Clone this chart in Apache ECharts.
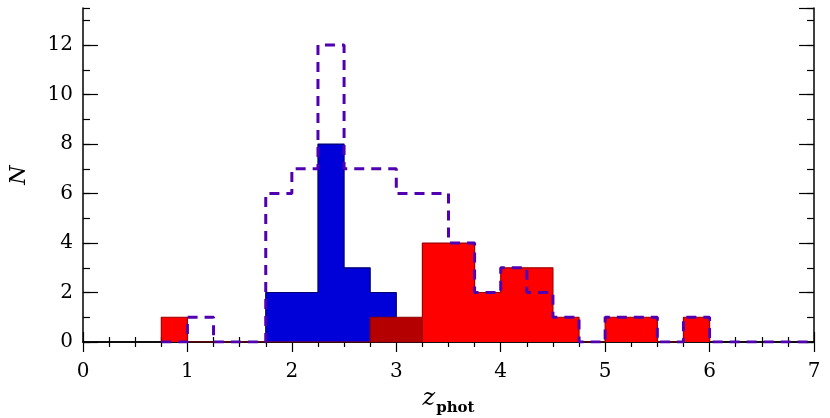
<!DOCTYPE html>
<html>
<head>
<meta charset="utf-8">
<script src="https://cdn.jsdelivr.net/npm/echarts@6/dist/echarts.min.js"></script>
<style>html,body{margin:0;padding:0;background:#fff}#c{width:830px;height:418px}</style>
</head>
<body>
<div id="c"></div>
<script>
// bin width 0.25 in z_phot
var BIN = 0.25;
var xTicks = [0, 1, 2, 3, 4, 5, 6, 7];
var yTicks = [0, 2, 4, 6, 8, 10, 12];

var blueLeft = [1.75, 2.0, 2.25, 2.5, 2.75];
var blueN    = [2, 2, 8, 3, 2];

var darkRedLeft = [2.75, 3.0];
var darkRedN    = [1, 1];

var redLeft = [0.75, 3.25, 3.5, 3.75, 4.0, 4.25, 4.5, 5.0, 5.25, 5.75];
var redN    = [1, 4, 4, 2, 3, 3, 1, 1, 1, 1];

var allLeft = [0.75, 1.0, 1.25, 1.5, 1.75, 2.0, 2.25, 2.5, 2.75, 3.0, 3.25, 3.5, 3.75,
               4.0, 4.25, 4.5, 4.75, 5.0, 5.25, 5.5, 5.75, 6.0, 6.25, 6.5, 6.75];
var allN    = [0, 1, 0, 0, 6, 7, 12, 7, 7, 6, 6, 4, 2, 3, 2, 1, 0, 1, 1, 0, 1, 0, 0, 0, 0];

function stepPoints(lefts, counts) {
  var pts = [];
  var prevRight = null;
  for (var i = 0; i < lefts.length; i++) {
    var l = lefts[i], r = l + BIN;
    if (prevRight === null) { pts.push([l, 0]); }
    else if (Math.abs(l - prevRight) > 1e-9) { pts.push([prevRight, 0]); pts.push([l, 0]); }
    pts.push([l, counts[i]]); pts.push([r, counts[i]]);
    prevRight = r;
  }
  pts.push([prevRight, 0]);
  return pts;
}
function histSeries(lefts, counts, fill, edge, width, type, z) {
  var s = {
    type: 'line', xAxisIndex: 0, yAxisIndex: 0, z: z, silent: true,
    data: stepPoints(lefts, counts), symbol: 'none', animation: false,
    lineStyle: { color: edge, width: width, type: type }
  };
  if (fill) s.areaStyle = { color: fill, opacity: 1, origin: 0 };
  return s;
}

var FONT = 'DejaVu Serif';
var frame = { show: true, lineStyle: { color: '#000', width: 1.5 } };

function xAx(pos, labels) {
  return {
    type: 'value', position: pos, min: 0, max: 7, interval: 1,
    axisLine: frame, splitLine: { show: false },
    axisTick: { show: true, inside: true, length: 10, lineStyle: { color: '#000', width: 1.2 } },
    minorTick: { show: true, splitNumber: 4, length: 5, lineStyle: { color: '#000', width: 1.2 } },
    axisLabel: { show: labels, fontFamily: FONT, fontSize: 20, color: '#000', margin: 20,
                 formatter: function (v) { return xTicks.indexOf(v) >= 0 ? String(v) : ''; } }
  };
}
function yAx(pos, interval, len, labels, line) {
  return {
    type: 'value', position: pos, min: 0, max: 13.5, interval: interval,
    axisLine: line ? frame : { show: false }, splitLine: { show: false },
    axisTick: { show: true, inside: true, length: len, lineStyle: { color: '#000', width: 1.2 } },
    axisLabel: { show: labels, fontFamily: FONT, fontSize: 20, color: '#000', margin: 10, showMaxLabel: false,
                 formatter: function (v) { return yTicks.indexOf(v) >= 0 ? String(v) : ''; } }
  };
}

var xa0 = xAx('bottom', true);
xa0.name = '{z|z}{s|phot}';
xa0.nameLocation = 'middle';
xa0.nameGap = 40;
xa0.nameTextStyle = {
  rich: {
    z: { fontFamily: FONT, fontStyle: 'italic', fontSize: 24, color: '#000', lineHeight: 26, verticalAlign: 'bottom' },
    s: { fontFamily: FONT, fontWeight: 'bold', fontSize: 15, color: '#000', lineHeight: 26, verticalAlign: 'bottom', padding: [0, 0, -5, 1] }
  }
};
var ya0 = yAx('left', 2, 15, true, true);
ya0.name = 'N';
ya0.nameLocation = 'middle';
ya0.nameRotate = 90;
ya0.nameGap = 53;
ya0.nameTextStyle = { fontFamily: FONT, fontStyle: 'italic', fontSize: 22, color: '#000' };

var chart = echarts.init(document.getElementById('c'), null, { renderer: 'canvas' });
chart.setOption({
  animation: false,
  backgroundColor: '#fff',
  grid: { left: 83, right: 16, top: 8, bottom: 76, containLabel: false, outerBoundsMode: 'none' },
  xAxis: [xa0, xAx('top', false)],
  yAxis: [ya0, yAx('left', 1, 7, false, false), yAx('right', 2, 15, false, true), yAx('right', 1, 7, false, false)],
  series: [
    histSeries(blueLeft, blueN, '#0000d8', '#000070', 1.2, 'solid', 2),
    histSeries(darkRedLeft, darkRedN, '#b40000', '#900000', 1.2, 'solid', 4),
    histSeries(redLeft, redN, '#ff0000', '#a00000', 1.2, 'solid', 6),
    histSeries(allLeft, allN, null, '#5000b0', 3, [10, 7], 8)
  ]
});
</script>
</body>
</html>
